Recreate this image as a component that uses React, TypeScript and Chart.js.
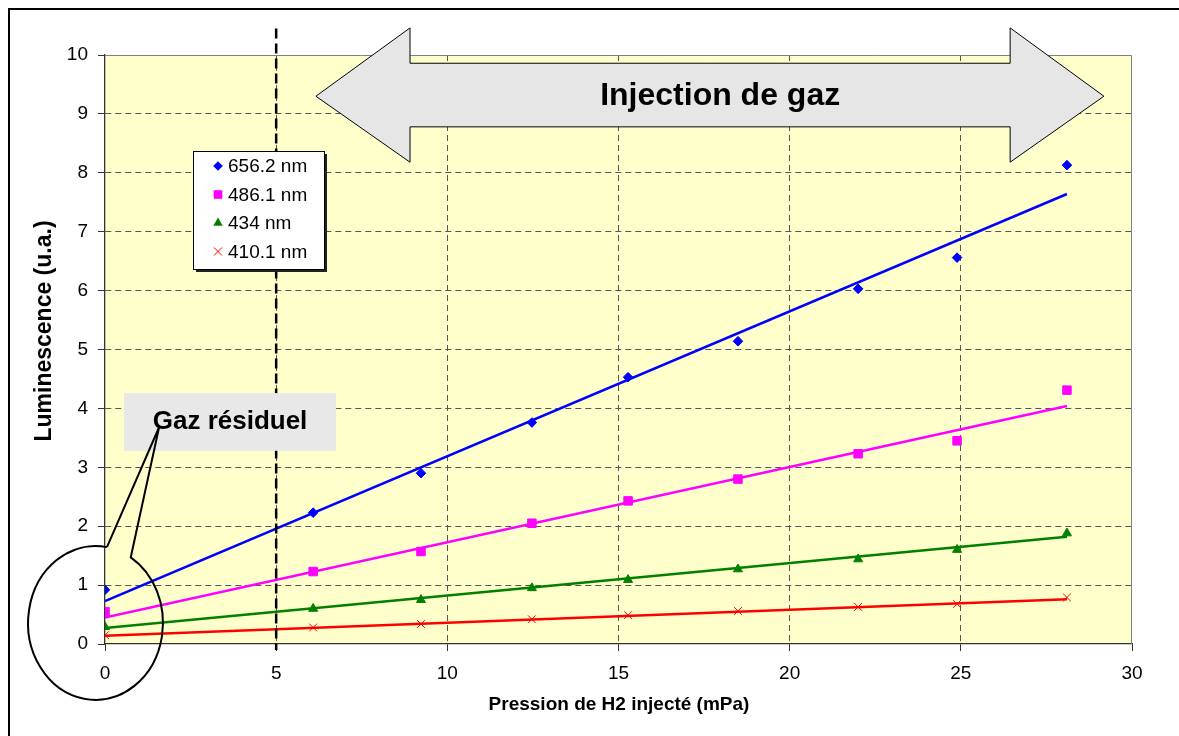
import React, { useEffect, useRef } from "react";
import { Chart, registerables } from "chart.js";

Chart.register(...registerables);

// ---- Data ----
const pressure = [0, 6.08, 9.23, 12.47, 15.28, 18.49, 22.0, 24.89, 28.1];
const lum656 = [0.92, 2.23, 2.9, 3.76, 4.53, 5.14, 6.03, 6.56, 8.13];
const lum486 = [0.55, 1.23, 1.57, 2.05, 2.43, 2.8, 3.23, 3.45, 4.31];
const lum434 = [0.29, 0.6, 0.75, 0.95, 1.09, 1.27, 1.44, 1.6, 1.88];
const lum410 = [0.15, 0.28, 0.34, 0.42, 0.49, 0.56, 0.63, 0.68, 0.79];

const trendX = [0, 28.1];
const trend656 = [0.73, 7.64];
const trend486 = [0.45, 4.04];
const trend434 = [0.27, 1.82];
const trend410 = [0.14, 0.76];

const seriesLabels = ["656.2 nm", "486.1 nm", "434 nm", "410.1 nm"];
const seriesColors = ["#0000FF", "#FF00FF", "#008000", "#FF0000"];
const seriesStyles = ["rectRot", "rect", "triangle", "crossRot"];
const seriesRadius = [4.8, 6, 5.2, 5.5];

const xTitle = "Pression de H2 injecté (mPa)";
const yTitle = "Luminescence (u.a.)";
const arrowText = "Injection de gaz";
const calloutText = "Gaz résiduel";
const injectionStart = 5;

const FONT = "'Liberation Sans', Arial, Helvetica, sans-serif";

function drawMarker(ctx: CanvasRenderingContext2D, style: string, x: number, y: number, color: string) {
  ctx.save();
  ctx.fillStyle = color;
  ctx.strokeStyle = color;
  ctx.lineWidth = 1;
  ctx.beginPath();
  if (style === "rectRot") {
    const r = 4.8;
    ctx.moveTo(x - r, y);
    ctx.lineTo(x, y - r);
    ctx.lineTo(x + r, y);
    ctx.lineTo(x, y + r);
    ctx.closePath();
    ctx.fill();
  } else if (style === "rect") {
    const s = 4.3;
    ctx.rect(x - s, y - s, 2 * s, 2 * s);
    ctx.fill();
  } else if (style === "triangle") {
    const r = 5.4;
    ctx.moveTo(x, y - r);
    ctx.lineTo(x + r * 0.866, y + r * 0.5);
    ctx.lineTo(x - r * 0.866, y + r * 0.5);
    ctx.closePath();
    ctx.fill();
  } else {
    const s = 4;
    ctx.moveTo(x - s, y - s);
    ctx.lineTo(x + s, y + s);
    ctx.moveTo(x + s, y - s);
    ctx.lineTo(x - s, y + s);
    ctx.stroke();
  }
  ctx.restore();
}

const decoPlugin = {
  id: "deco",
  beforeDraw(chart: any) {
    const { ctx, chartArea: a } = chart;
    ctx.save();
    ctx.fillStyle = "#FFFFFF";
    ctx.fillRect(0, 0, chart.width, chart.height);
    ctx.fillStyle = "#FFFFCC";
    ctx.fillRect(a.left, a.top, a.right - a.left, a.bottom - a.top);
    ctx.restore();
  },
  beforeDatasetsDraw(chart: any) {
    const { ctx, chartArea: a } = chart;
    ctx.save();
    ctx.strokeStyle = "#808080";
    ctx.lineWidth = 1;
    ctx.beginPath();
    ctx.moveTo(a.left, a.top + 0.5);
    ctx.lineTo(a.right - 0.5, a.top + 0.5);
    ctx.lineTo(a.right - 0.5, a.bottom);
    ctx.stroke();
    ctx.restore();
  },
  afterDraw(chart: any) {
    const { ctx } = chart;
    const xs = chart.scales.x;
    const ys = chart.scales.y;
    const px = (v: number) => xs.getPixelForValue(v);
    const py = (v: number) => ys.getPixelForValue(v);

    ctx.save();
    // outer frame
    ctx.strokeStyle = "#000";
    ctx.lineWidth = 2;
    ctx.strokeRect(9, 9, chart.width + 20, chart.height + 20);

    // dashed vertical line at injection start
    ctx.beginPath();
    ctx.setLineDash([10, 5]);
    ctx.lineWidth = 2.5;
    ctx.strokeStyle = "#000";
    ctx.moveTo(px(injectionStart), py(10.45));
    ctx.lineTo(px(injectionStart), py(-0.1));
    ctx.stroke();
    ctx.setLineDash([]);

    // double arrow
    const lt = px(6.16), lb = px(8.91), rb = px(26.44), rt = px(29.18);
    const hTop = py(10.46), sTop = py(9.86), mid = py(9.3), sBot = py(8.78), hBot = py(8.18);
    ctx.beginPath();
    ctx.moveTo(lt, mid);
    ctx.lineTo(lb, hTop);
    ctx.lineTo(lb, sTop);
    ctx.lineTo(rb, sTop);
    ctx.lineTo(rb, hTop);
    ctx.lineTo(rt, mid);
    ctx.lineTo(rb, hBot);
    ctx.lineTo(rb, sBot);
    ctx.lineTo(lb, sBot);
    ctx.lineTo(lb, hBot);
    ctx.closePath();
    ctx.fillStyle = "#E6E6E6";
    ctx.fill();
    ctx.lineWidth = 1;
    ctx.strokeStyle = "#000";
    ctx.stroke();
    ctx.fillStyle = "#000";
    ctx.font = `bold 32px ${FONT}`;
    ctx.textAlign = "center";
    ctx.textBaseline = "middle";
    ctx.fillText(arrowText, px(17.97), mid);

    // callout box
    const bx1 = px(0.555), bx2 = px(6.75), by1 = py(4.26), by2 = py(3.28);
    ctx.fillStyle = "#E8E8E8";
    ctx.fillRect(bx1, by1, bx2 - bx1, by2 - by1);
    ctx.fillStyle = "#000";
    ctx.font = `bold 26px ${FONT}`;
    ctx.fillText(calloutText, (bx1 + bx2) / 2, (by1 + by2) / 2);

    // ellipse with callout pointer
    const cx = px(-0.277), cy = py(0.357);
    const rx = px(-0.277 + 1.97) - cx, ry = cy - py(0.357 + 1.307);
    const ax = px(0.06), ay = py(1.65);
    const bxp = px(0.76), byp = py(1.48);
    const apx = px(1.58), apy = py(3.68);
    const angA = Math.atan2((ay - cy) / ry, (ax - cx) / rx);
    const angB = Math.atan2((byp - cy) / ry, (bxp - cx) / rx);
    ctx.beginPath();
    ctx.ellipse(cx, cy, rx, ry, 0, angA, angB, true);
    ctx.lineTo(apx, apy);
    ctx.lineTo(ax, ay);
    ctx.lineWidth = 2;
    ctx.strokeStyle = "#000";
    ctx.stroke();

    // legend
    const lx = 193, ly = 151, lw = 131, lh = 118;
    ctx.fillStyle = "#222";
    ctx.fillRect(lx + 3, ly + 3, lw, lh);
    ctx.fillStyle = "#FFF";
    ctx.fillRect(lx, ly, lw, lh);
    ctx.lineWidth = 1;
    ctx.strokeStyle = "#000";
    ctx.strokeRect(lx + 0.5, ly + 0.5, lw, lh);
    ctx.font = `19px ${FONT}`;
    ctx.textAlign = "left";
    ctx.textBaseline = "middle";
    seriesLabels.forEach((lab, i) => {
      const yy = ly + 15 + i * 28.5;
      drawMarker(ctx, seriesStyles[i], lx + 25, yy, seriesColors[i]);
      ctx.fillStyle = "#000";
      ctx.fillText(lab, lx + 35, yy + 1);
    });

    // axis titles
    ctx.fillStyle = "#000";
    ctx.font = `bold 19px ${FONT}`;
    ctx.textAlign = "center";
    ctx.textBaseline = "middle";
    ctx.fillText(xTitle, 619, 705);
    ctx.save();
    ctx.translate(45, 331);
    ctx.rotate(-Math.PI / 2);
    ctx.font = `bold 23px ${FONT}`;
    ctx.fillText(yTitle, 0, 0);
    ctx.restore();

    ctx.restore();
  },
};

export default function App() {
  const ref = useRef<HTMLCanvasElement>(null);
  useEffect(() => {
    document.body.style.margin = "0";
    const canvas = ref.current!;
    const seriesData = [lum656, lum486, lum434, lum410];
    const trendData = [trend656, trend486, trend434, trend410];

    const markerSets = seriesData.map((vals, i) => ({
      label: seriesLabels[i],
      data: pressure.map((x, k) => ({ x, y: vals[k] })),
      showLine: false,
      pointStyle: seriesStyles[i],
      pointRadius: seriesRadius[i],
      pointHoverRadius: seriesRadius[i],
      pointBackgroundColor: seriesColors[i],
      pointBorderColor: seriesColors[i],
      pointBorderWidth: 1,
      backgroundColor: seriesColors[i],
      borderColor: seriesColors[i],
      order: 2,
    }));
    const trendSets = trendData.map((vals, i) => ({
      label: "trend " + seriesLabels[i],
      data: trendX.map((x, k) => ({ x, y: vals[k] })),
      showLine: true,
      pointRadius: 0,
      borderColor: seriesColors[i],
      borderWidth: 2.5,
      fill: false,
      order: 1,
    }));

    const gridColor = (edge: number) => (c: any) =>
      c.tick && (c.tick.value === edge || c.tick.value === 0) ? "rgba(0,0,0,0)" : "#555";

    const chart = new Chart(canvas, {
      type: "scatter",
      data: { datasets: [...markerSets, ...trendSets] as any },
      options: {
        responsive: false,
        animation: false,
        devicePixelRatio: 1,
        layout: { padding: { top: 55, right: 47, left: 0, bottom: 0 } },
        plugins: { legend: { display: false }, tooltip: { enabled: false } },
        scales: {
          x: {
            type: "linear",
            min: 0,
            max: 30,
            ticks: { stepSize: 5, color: "#000", font: { family: FONT, size: 19 }, padding: 11, maxRotation: 0 },
            grid: { color: gridColor(30), tickColor: "#333", tickLength: 7, lineWidth: 1 },
            border: { color: "#333", width: 1.3, dash: [6, 4] },
            afterFit: (s: any) => {
              s.height = 92;
            },
          },
          y: {
            type: "linear",
            min: 0,
            max: 10,
            ticks: { stepSize: 1, color: "#000", font: { family: FONT, size: 19 }, padding: 10 },
            grid: { color: gridColor(10), tickColor: "#333", tickLength: 7, lineWidth: 1 },
            border: { color: "#333", width: 1.3, dash: [6, 4] },
            afterFit: (s: any) => {
              s.width = 105;
            },
          },
        },
      } as any,
      plugins: [decoPlugin],
    });
    return () => chart.destroy();
  }, []);

  return (
    <canvas
      ref={ref}
      width={1179}
      height={736}
      style={{ display: "block", width: 1179, height: 736 }}
    />
  );
}
